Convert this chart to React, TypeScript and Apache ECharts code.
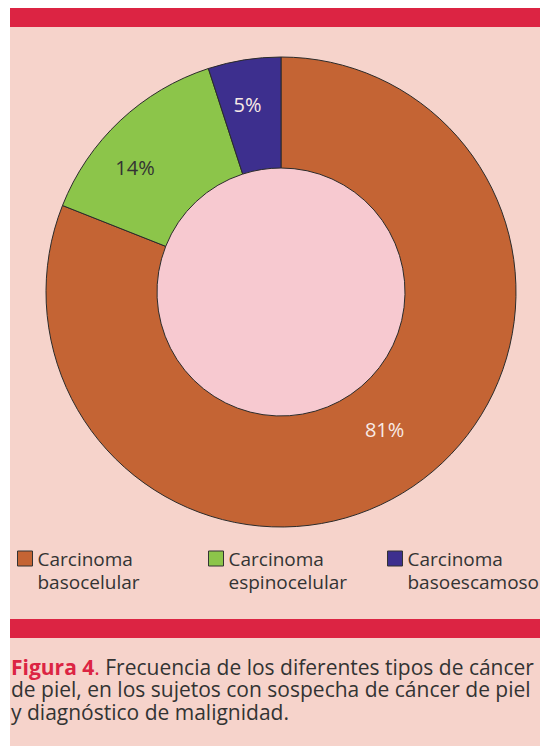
import React, { useEffect, useRef } from "react";
import * as echarts from "echarts";

const categories = ["Carcinoma\nbasocelular", "Carcinoma\nespinocelular", "Carcinoma\nbasoescamoso"];
const values = [81, 14, 5];
const sliceColors = ["#c46434", "#8cc54a", "#3d2f8e"];
const labelColors = ["#f8ebe6", "#333333", "#f8ebe6"];
const labelOffsets = [[1, -13], [-21, 9], [-5, -7]];
const legendLefts = [17, 208, 387];
const captionLead = "Figura 4";
const captionLines = [
  " Frecuencia de los diferentes tipos de cáncer",
  "de piel, en los sujetos con sospecha de cáncer de piel",
  "y diagnóstico de malignidad.",
];

const FONT = "'Open Sans', 'Noto Sans', sans-serif";
const BG = "#f6d3cb";
const RED = "#dc2443";

export default function App() {
  const ref = useRef<HTMLDivElement>(null);
  useEffect(() => {
    if (!ref.current) return;
    const chart = echarts.init(ref.current, null, { renderer: "svg" });
    const data = categories.map((name, i) => ({
      name,
      value: values[i],
      itemStyle: { color: sliceColors[i] },
      label: { color: labelColors[i] },
    }));
    const captionText =
      "{lead|" + captionLead + "}{dot|.}{body|" + captionLines[0] + "}\n{body|" + captionLines[1] + "}\n{body|" + captionLines[2] + "}";
    chart.setOption({
      animation: false,
      backgroundColor: "#ffffff",
      textStyle: { fontFamily: FONT },
      graphic: [
        { type: "rect", z: -10, shape: { x: 10, y: 8, width: 540, height: 746 }, style: { fill: BG } },
        { type: "rect", z: -9, shape: { x: 10, y: 8, width: 540, height: 19 }, style: { fill: RED } },
        { type: "rect", z: -9, shape: { x: 10, y: 619, width: 540, height: 19 }, style: { fill: RED } },
        { type: "circle", z: -8, shape: { cx: 281, cy: 292, r: 124 }, style: { fill: "#f7c9d0" } },
        {
          type: "text",
          left: 11,
          top: 656,
          style: {
            text: captionText,
            fontFamily: FONT,
            rich: {
              lead: { fontSize: 21, fontWeight: "bold", fill: RED, lineHeight: 22.5, fontFamily: FONT },
              dot: { fontSize: 21, fill: RED, lineHeight: 22.5, fontFamily: FONT },
              body: { fontSize: 21, fill: "#333333", lineHeight: 22.5, fontFamily: FONT },
            },
          },
        },
      ],
      legend: legendLefts.map((left, i) => ({
        data: [categories[i]],
        left,
        top: 524,
        padding: 0,
        icon: "rect",
        itemWidth: 15,
        itemHeight: 15,
        itemGap: 5,
        selectedMode: false,
        formatter: (name: string) => "\n" + name,
        itemStyle: { borderColor: "#333333", borderWidth: 1 },
        textStyle: {
          fontFamily: FONT,
          fontSize: 19,
          color: "#333333",
          lineHeight: 23,
        },
      })),
      series: [
        {
          type: "pie",
          center: [281, 292],
          radius: [124, 235],
          startAngle: 90,
          clockwise: true,
          data,
          itemStyle: { borderColor: "#2b2b2b", borderWidth: 1 },
          label: {
            show: true,
            position: "inside",
            formatter: "{c}%",
            fontSize: 20,
            fontFamily: FONT,
          },
          labelLine: { show: false },
          labelLayout: (params: any) => {
            const o = labelOffsets[params.dataIndex];
            return { dx: o[0], dy: o[1] };
          },
          emphasis: { disabled: true },
        },
      ],
    });
    return () => chart.dispose();
  }, []);
  return (
    <div
      ref={ref}
      style={{ position: "absolute", left: 0, top: 0, width: 540, height: 746 }}
    />
  );
}
